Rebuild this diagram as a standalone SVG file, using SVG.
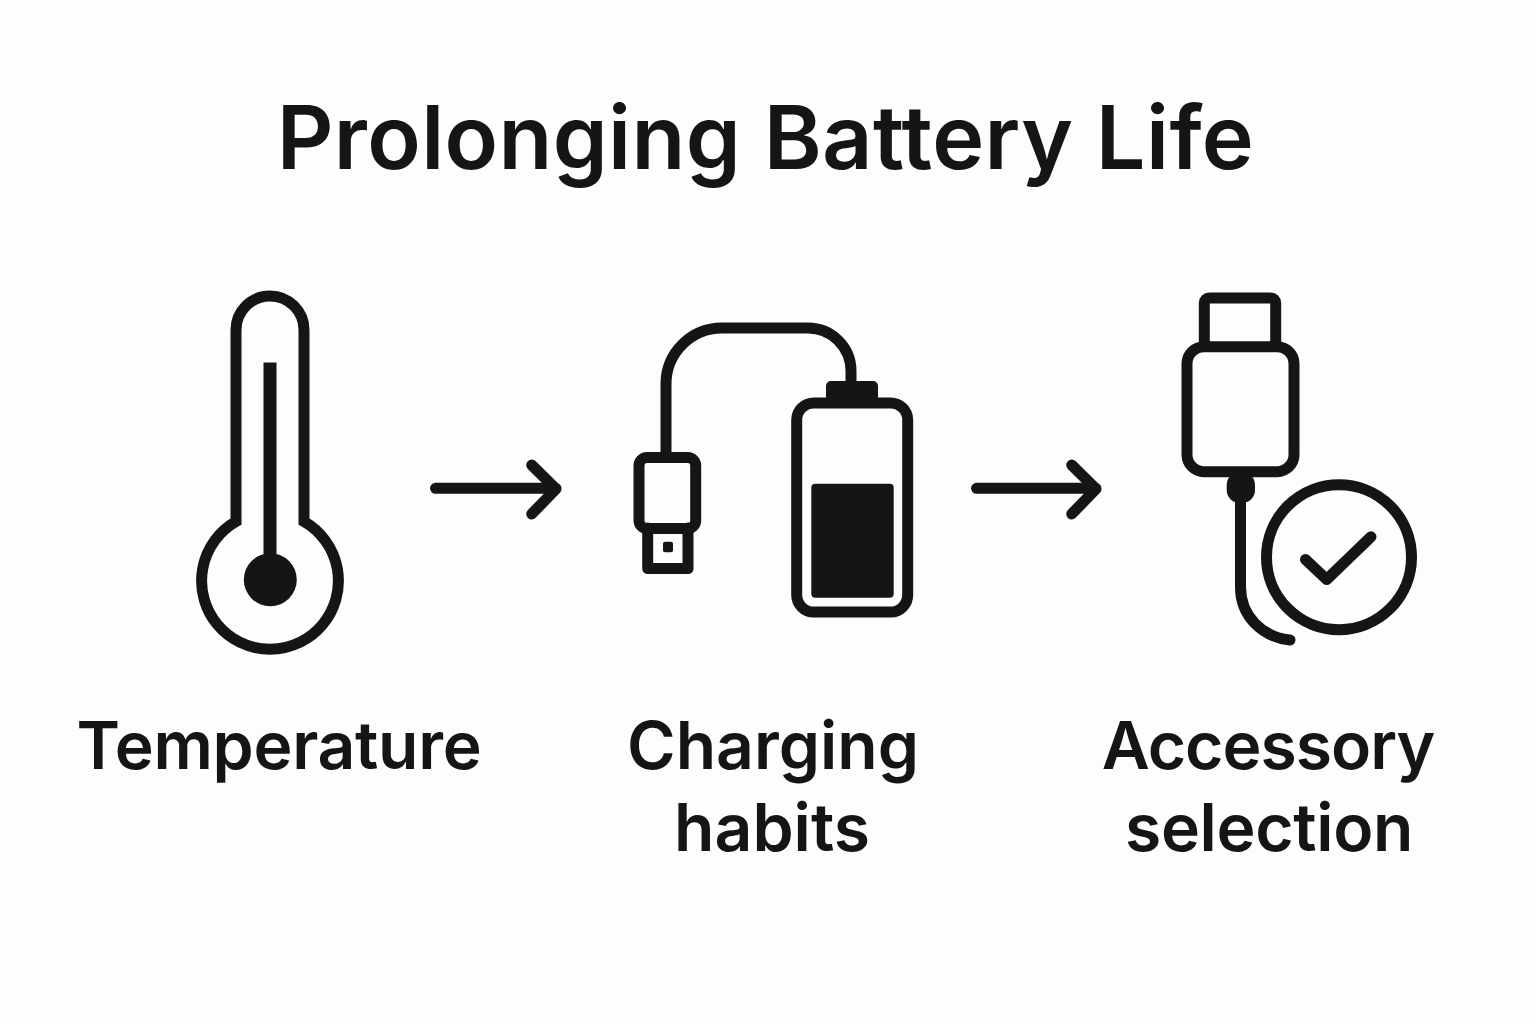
<svg xmlns="http://www.w3.org/2000/svg" width="1536" height="1024" viewBox="0 0 1536 1024">
<style>
text{font-family:"Inter","Noto Sans",sans-serif;font-weight:600;fill:#141514;text-anchor:middle}
.t{font-size:66px}
.title{font-size:88px;letter-spacing:.36px}
.s{fill:none;stroke:#141514;stroke-width:11;stroke-linecap:round;stroke-linejoin:round}
.m{stroke-linecap:butt;stroke-linejoin:miter}
.f{fill:#141514}
</style>
<rect width="1536" height="1024" fill="#fdfdfd"/>
<text class="title" x="765.5" y="169">Prolonging Battery Life</text>
<g id="temperature">
<path class="s m" d="M236 521.5V330a34 34 0 0 1 68 0V521.5A68.4 68.4 0 1 1 236 521.5Z"/>
<rect class="f" x="263.5" y="362.5" width="13" height="195"/>
<circle class="f" cx="270.3" cy="579.7" r="26.5"/>
<text class="t" x="279" y="769" style="letter-spacing:-.3px">Temperature</text>
</g>
<g id="charging">
<path class="s" d="M647.7 528V568.5H688V528"/>
<rect class="s" x="639" y="457.5" width="56.7" height="71" rx="8"/>
<rect class="f" x="663" y="541.7" width="10" height="10.6" rx="2"/>
<path class="s m" d="M666 458V384A56 56 0 0 1 722 328H808A43 43 0 0 1 851 371V382"/>
<rect class="f" x="826" y="381" width="52" height="24" rx="5"/>
<rect class="s" x="796.7" y="403" width="111" height="209" rx="17"/>
<rect class="f" x="811.3" y="483.7" width="82.4" height="114" rx="4"/>
<text class="t" x="773" y="769">Charging</text>
<text class="t" x="772" y="851">habits</text>
</g>
<g id="accessory">
<path class="s" d="M1204.3 346V303a5 5 0 0 1 5-5H1270.7a5 5 0 0 1 5 5V346"/>
<rect class="s" x="1187" y="346.7" width="107" height="125" rx="17"/>
<rect class="f" x="1226.7" y="472" width="28.3" height="31" rx="13"/>
<path class="s" d="M1240.5 500V587C1240.5 616 1262 637 1290 640"/>
<circle class="s" cx="1339" cy="557.2" r="72.5"/>
<path class="s" d="M1305.5 559.5L1326.7 579.5L1371 536.7"/>
<text class="t" x="1268" y="769" style="letter-spacing:-1px">Accessory</text>
<text class="t" x="1269" y="851" style="letter-spacing:-.35px">selection</text>
</g>
<g id="connectors">
<path class="s" d="M435.5 488.3H556M531.7 465L556 489L531.7 514"/>
<path class="s" d="M976.5 488.3H1096M1071.7 465L1096 489L1071.7 514"/>
</g>
</svg>
